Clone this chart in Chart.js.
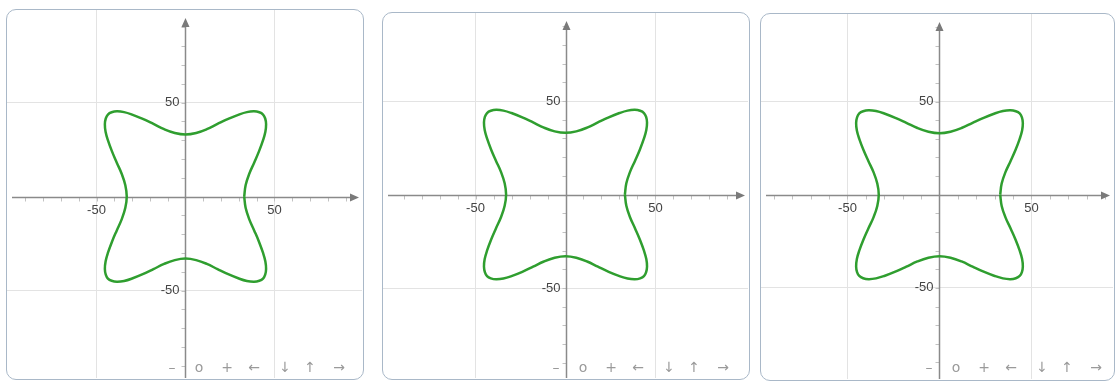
<!DOCTYPE html>
<html>
<head>
<meta charset="utf-8">
<script src="https://cdn.jsdelivr.net/npm/chart.js@4.4.1/dist/chart.umd.min.js"></script>
<style>
  body { margin: 0; background: #fff; width: 1119px; height: 382px; overflow: hidden; position: relative; font-family: "Liberation Sans", Arial, sans-serif; }
  .board { position: absolute; border: 1.5px solid #a9b8c8; border-radius: 10px; box-sizing: border-box; overflow: hidden; background: #fff; }
  .board canvas { position: absolute; left: 0; top: 0; }
  .nav span { position: absolute; color: #9a9a9a; font-size: 14px; font-family: "DejaVu Sans", sans-serif; transform: translateX(-50%); line-height: 16px; }
</style>
</head>
<body>
<script>
// curve points, counterclockwise from the right-hand crossing of the x axis
const curveX = [
  33, 33.8, 35.8, 38.6, 41.3, 43.6, 44.9, 45.3, 44.8, 43.6, 41.5, 38.5, 34.5, 30, 24, 18, 12, 6,
  0, -6, -12, -18, -24, -30, -34.5, -38.5, -41.5, -43.6, -44.8, -45.3, -44.9, -43.6, -41.3, -38.6, -35.8, -33.8,
  -33, -33.8, -35.8, -38.6, -41.3, -43.6, -44.9, -45.3, -44.8, -43.6, -41.5, -38.5, -34.5, -30, -24, -18, -12, -6,
  0, 6, 12, 18, 24, 30, 34.5, 38.5, 41.5, 43.6, 44.8, 45.3, 44.9, 43.6, 41.3, 38.6, 35.8, 33.8, 33
];
const curveY = [
  0, 6, 12, 18, 24, 30, 34.5, 38.5, 41.5, 43.6, 44.8, 45.3, 44.9, 43.6, 41.3, 38.6, 35.8, 33.8,
  33, 33.8, 35.8, 38.6, 41.3, 43.6, 44.9, 45.3, 44.8, 43.6, 41.5, 38.5, 34.5, 30, 24, 18, 12, 6,
  0, -6, -12, -18, -24, -30, -34.5, -38.5, -41.5, -43.6, -44.8, -45.3, -44.9, -43.6, -41.3, -38.6, -35.8, -33.8,
  -33, -33.8, -35.8, -38.6, -41.3, -43.6, -44.9, -45.3, -44.8, -43.6, -41.5, -38.5, -34.5, -30, -24, -18, -12, -6, 0
];

// labelled grid lines and small ticks along both axes
const gridValues = [-50, 50];
const gridLabels = ['-50', '50'];
const minorTicks = [-90, -80, -70, -60, -50, -40, -30, -20, -10, 10, 20, 30, 40, 50, 60, 70, 80, 90];

// navigation bar under each board
const navSymbols = ['\u2013', 'o', '+', '\u2190', '\u2193', '\u2191', '\u2192'];
const navOffsets = [0, 27, 55, 82, 113, 138, 167];

const boards = [
  { left: 6,   top: 9,  width: 358, height: 371, xMin: -100.3, xMax: 99.2,  yMin: -96.5, yMax: 99.2, navX: 165, navY: 349 },
  { left: 382, top: 12, width: 368, height: 368, xMin: -101.4, xMax: 101.4, yMin: -98.1, yMax: 97.1, navX: 173, navY: 346 },
  { left: 760, top: 13, width: 355, height: 368, xMin: -97,    xMax: 94.3,  yMin: -98.9, yMax: 97,   navX: 168, navY: 345 }
];

const axesPlugin = {
  id: 'axes',
  beforeDatasetsDraw(chart) {
    const { ctx, chartArea: a, scales: { x, y } } = chart;
    const x0 = Math.round(x.getPixelForValue(0)) + 0.5;
    const y0 = Math.round(y.getPixelForValue(0)) + 0.5;
    ctx.save();

    // small ticks
    ctx.strokeStyle = '#c2c2c2';
    ctx.lineWidth = 1;
    ctx.beginPath();
    minorTicks.forEach(v => {
      const px = Math.round(x.getPixelForValue(v)) + 0.5;
      ctx.moveTo(px, y0);
      ctx.lineTo(px, y0 + 4);
      const py = Math.round(y.getPixelForValue(v)) + 0.5;
      ctx.moveTo(x0, py);
      ctx.lineTo(x0 - 4, py);
    });
    ctx.stroke();

    // axes with arrow heads
    ctx.strokeStyle = '#8a8a8a';
    ctx.fillStyle = '#7a7a7a';
    ctx.lineWidth = 1.5;
    const xEnd = a.right - 3, yEnd = a.top + 8;
    ctx.beginPath();
    ctx.moveTo(a.left + 5, y0);
    ctx.lineTo(xEnd - 6, y0);
    ctx.moveTo(x0, a.bottom);
    ctx.lineTo(x0, yEnd + 6);
    ctx.stroke();
    ctx.beginPath();
    ctx.moveTo(xEnd, y0);
    ctx.lineTo(xEnd - 9, y0 - 4);
    ctx.lineTo(xEnd - 9, y0 + 4);
    ctx.closePath();
    ctx.moveTo(x0, yEnd);
    ctx.lineTo(x0 - 4, yEnd + 9);
    ctx.lineTo(x0 + 4, yEnd + 9);
    ctx.closePath();
    ctx.fill();

    // labels
    ctx.fillStyle = '#444';
    ctx.font = '13px "Liberation Sans", Arial, sans-serif';
    gridValues.forEach((v, i) => {
      ctx.textAlign = 'center';
      ctx.textBaseline = 'top';
      ctx.fillText(gridLabels[i], x.getPixelForValue(v), y0 + 6);
      ctx.textAlign = 'right';
      ctx.textBaseline = 'middle';
      ctx.fillText(gridLabels[i], x0 - 6, y.getPixelForValue(v));
    });
    ctx.restore();
  }
};

const points = curveX.map((v, i) => ({ x: v, y: curveY[i] }));

boards.forEach(b => {
  const div = document.createElement('div');
  div.className = 'board';
  div.style.left = b.left + 'px';
  div.style.top = b.top + 'px';
  div.style.width = b.width + 'px';
  div.style.height = b.height + 'px';
  document.body.appendChild(div);

  const canvas = document.createElement('canvas');
  canvas.width = b.width - 3;
  canvas.height = b.height - 3;
  div.appendChild(canvas);

  const nav = document.createElement('div');
  nav.className = 'nav';
  navSymbols.forEach((s, i) => {
    const span = document.createElement('span');
    span.textContent = s;
    span.style.left = (b.navX + navOffsets[i]) + 'px';
    span.style.top = b.navY + 'px';
    nav.appendChild(span);
  });
  div.appendChild(nav);

  const axisOpts = (min, max) => ({
    type: 'linear',
    min: min,
    max: max,
    afterBuildTicks: scale => { scale.ticks = gridValues.map(v => ({ value: v })); },
    grid: { color: '#e3e3e3', lineWidth: 1, drawTicks: false },
    border: { display: false },
    ticks: { display: false }
  });

  new Chart(canvas.getContext('2d'), {
    type: 'scatter',
    data: {
      datasets: [{
        data: points,
        showLine: true,
        borderColor: '#2f9e2f',
        borderWidth: 2.5,
        pointRadius: 0,
        tension: 0.4,
        fill: false
      }]
    },
    options: {
      responsive: false,
      animation: false,
      layout: { padding: 0 },
      plugins: { legend: { display: false }, tooltip: { enabled: false } },
      scales: {
        x: axisOpts(b.xMin, b.xMax),
        y: axisOpts(b.yMin, b.yMax)
      }
    },
    plugins: [axesPlugin]
  });
});
</script>
</body>
</html>
